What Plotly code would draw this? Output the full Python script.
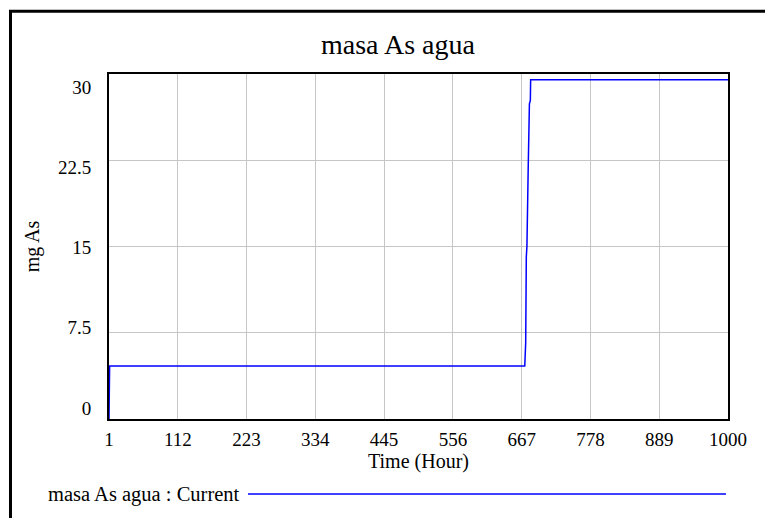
import plotly.graph_objects as go

# Simulation output: masa As agua (mg As) over time (hours)
hours = [1, 2, 672, 673.5, 674.5, 675.5, 677.5, 679.5, 681, 681.5, 1000]
masa_as_agua = [0, 4.6, 4.6, 6.6, 14.1, 15.0, 21.6, 27.4, 27.7, 29.5, 29.5]

x_ticks = [1, 112, 223, 334, 445, 556, 667, 778, 889, 1000]
y_ticks = [0, 7.5, 15, 22.5, 30]
y_tick_text = ["0", "7.5", "15", "22.5", "30"]

title_text = "masa As agua"
x_title = "Time (Hour)"
y_title = "mg As"
legend_text = "masa As agua : Current"

W, H = 765, 518
L, R, T, B = 109, 37, 74, 99
PW, PH = W - L - R, H - T - B

FONT = "Liberation Serif, Times New Roman, serif"
BLUE = "#0000ff"
GRID = "#c6c6c6"


def px_x(px):
    return (px - L) / PW


def px_y(py):
    return (T + PH - py) / PH


fig = go.Figure()
fig.add_trace(go.Scatter(
    x=hours, y=masa_as_agua, mode="lines",
    line=dict(color=BLUE, width=1.5), showlegend=False,
    hoverinfo="x+y",
))
# carrier for the label axis
fig.add_trace(go.Scatter(x=[], y=[], yaxis="y2", showlegend=False, hoverinfo="skip"))

fig.update_layout(
    width=W, height=H,
    margin=dict(l=L, r=R, t=T, b=B, pad=0),
    paper_bgcolor="white", plot_bgcolor="white",
    font=dict(family=FONT, color="black", size=19),
    showlegend=False,
    xaxis=dict(
        range=[1, 1000], tickmode="array", tickvals=x_ticks,
        ticktext=[str(v) for v in x_ticks],
        showgrid=True, gridcolor=GRID, gridwidth=1, zeroline=False,
        showline=True, linecolor="black", linewidth=2, mirror=True,
        ticks="outside", ticklen=2, tickcolor="rgba(0,0,0,0)",
        tickfont=dict(size=19),
        title=dict(text=x_title, font=dict(size=20), standoff=2),
    ),
    yaxis=dict(
        range=[0, 30], tickmode="array", tickvals=y_ticks,
        showticklabels=False,
        showgrid=True, gridcolor=GRID, gridwidth=1, zeroline=False,
        showline=True, linecolor="black", linewidth=2, mirror=True,
        ticks="",
    ),
    yaxis2=dict(
        overlaying="y", side="left", anchor="x",
        range=[-1.028, 31.21], tickmode="array", tickvals=y_ticks,
        ticktext=y_tick_text,
        showgrid=False, zeroline=False, showline=False,
        ticks="outside", ticklen=13, tickcolor="rgba(0,0,0,0)",
        tickfont=dict(size=19),
        title=dict(text=y_title, font=dict(size=20), standoff=12),
    ),
)

fig.add_annotation(
    text=title_text, xref="paper", yref="paper",
    x=px_x(398), y=px_y(45), xanchor="center", yanchor="middle",
    showarrow=False, font=dict(size=28, family=FONT),
)

fig.add_annotation(
    text=legend_text, xref="paper", yref="paper",
    x=px_x(46), y=px_y(494), xanchor="left", yanchor="middle",
    showarrow=False, font=dict(size=20.5, family=FONT),
)
fig.add_shape(
    type="line", xref="paper", yref="paper",
    x0=px_x(248), x1=px_x(726), y0=px_y(494), y1=px_y(494),
    line=dict(color=BLUE, width=1.5),
)

# outer frame
fig.add_shape(
    type="rect", xref="paper", yref="paper",
    x0=px_x(10.5), x1=px_x(790), y0=px_y(540), y1=px_y(11.3),
    line=dict(color="black", width=3), fillcolor="rgba(0,0,0,0)",
)

fig.write_html("out.html")
